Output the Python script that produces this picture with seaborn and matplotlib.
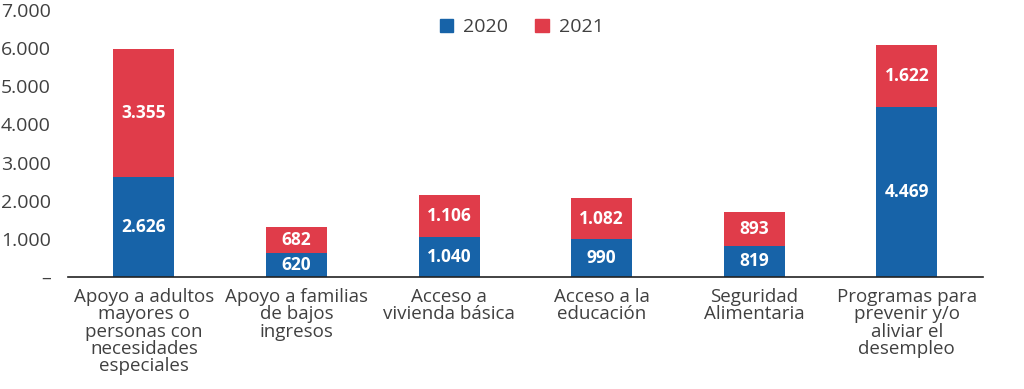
import matplotlib
matplotlib.use("Agg")
import matplotlib.pyplot as plt
import seaborn as sns
import pandas as pd
from matplotlib.patches import Patch

categorias = ["Apoyo a adultos\nmayores o\npersonas con\nnecesidades\nespeciales",
              "Apoyo a familias\nde bajos\ningresos",
              "Acceso a\nvivienda básica",
              "Acceso a la\neducación",
              "Seguridad\nAlimentaria",
              "Programas para\nprevenir y/o\naliviar el\ndesempleo"]
v2020 = [2626, 620, 1040, 990, 819, 4469]
v2021 = [3355, 682, 1106, 1082, 893, 1622]
yticks = [0, 1000, 2000, 3000, 4000, 5000, 6000, 7000]
ylabels = ["–", "1.000", "2.000", "3.000", "4.000", "5.000", "6.000", "7.000"]

azul = "#1763a8"
rojo = "#e03c4a"
gris = "#404040"

sns.set_style("white")
plt.rcParams["font.family"] = ["Open Sans", "DejaVu Sans"]

df = pd.DataFrame({"cat": categorias, "a2020": v2020, "a2021": v2021})
df["total"] = df["a2020"] + df["a2021"]

fig, ax = plt.subplots(figsize=(10.24, 3.89), dpi=100)
fig.subplots_adjust(left=0.066, right=0.96, top=0.974, bottom=0.288)

# total first (red), then 2020 over it (blue)
sns.barplot(data=df, x="cat", y="total", color=rojo, width=0.4, saturation=1,
            linewidth=0, ax=ax)
sns.barplot(data=df, x="cat", y="a2020", color=azul, width=0.4, saturation=1,
            linewidth=0, ax=ax)

def fmt(v):
    return f"{v:,}".replace(",", ".")

for i, r in df.iterrows():
    ax.text(i, r["a2020"] / 2, fmt(r["a2020"]), ha="center", va="center",
            color="white", fontsize=12.5, fontweight="bold")
    ax.text(i, r["a2020"] + r["a2021"] / 2, fmt(r["a2021"]), ha="center", va="center",
            color="white", fontsize=12.5, fontweight="bold")

ax.set_ylim(0, 7000)
ax.set_xlim(-0.5, 5.5)
ax.set_yticks(yticks)
ax.set_yticklabels(ylabels)
ax.set_xlabel("")
ax.set_ylabel("")
ax.tick_params(axis="y", length=0, labelsize=14, colors=gris, pad=12)
ax.tick_params(axis="x", length=0, labelsize=13.5, colors=gris, pad=8)
for lab in ax.get_xticklabels():
    lab.set_linespacing(0.95)
for s in ["top", "right", "left"]:
    ax.spines[s].set_visible(False)
ax.spines["bottom"].set_color("#222222")
ax.spines["bottom"].set_linewidth(1.2)

handles = [Patch(color=azul, label="2020"), Patch(color=rojo, label="2021")]
ax.legend(handles=handles, loc="upper center", bbox_to_anchor=(0.496, 1.035), ncol=2,
          frameon=False, fontsize=14, handlelength=0.7, handleheight=0.7,
          handletextpad=0.5, columnspacing=1.4, labelcolor=gris)

fig.savefig("out.png", dpi=100)
